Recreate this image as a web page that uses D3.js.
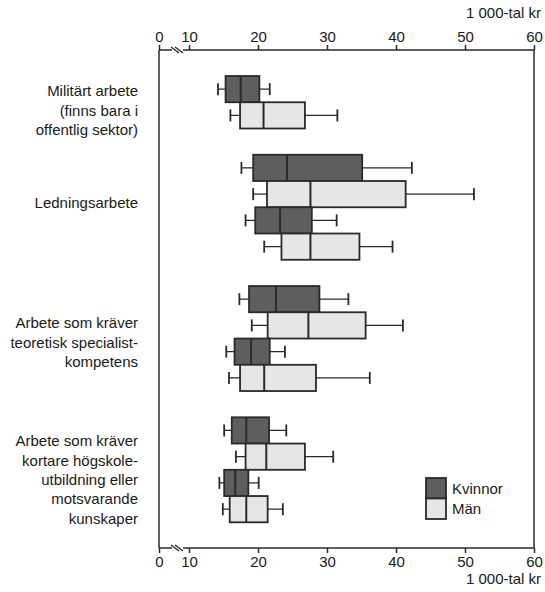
<!DOCTYPE html>
<html>
<head>
<meta charset="utf-8">
<script src="https://cdn.jsdelivr.net/npm/d3@7"></script>
<style>
  body { margin: 0; background: #fff; }
  text { font-family: "Liberation Sans", Arial, sans-serif; fill: #1a1a1a; }
</style>
</head>
<body>
<script>
// data (1 000-tal kr)
var groupLabels = [
  ["Militärt arbete", "(finns bara i", "offentlig sektor)"],
  ["Ledningsarbete"],
  ["Arbete som kräver", "teoretisk specialist-", "kompetens"],
  ["Arbete som kräver", "kortare högskole-", "utbildning eller", "motsvarande", "kunskaper"]
];
var boxGroup = [0, 0, 1, 1, 1, 1, 2, 2, 2, 2, 3, 3, 3, 3];
var boxSex = ["Kvinnor", "Män", "Kvinnor", "Män", "Kvinnor", "Män", "Kvinnor", "Män",
              "Kvinnor", "Män", "Kvinnor", "Män", "Kvinnor", "Män"];
var whiskerLow  = [14.2, 16.0, 17.6, 19.3, 18.2, 20.9, 17.3, 19.1, 15.4, 15.8, 15.1, 16.8, 14.4, 14.9];
var quart1      = [15.3, 17.4, 19.3, 21.3, 19.6, 23.4, 18.7, 21.4, 16.6, 17.4, 16.2, 18.2, 15.1, 15.9];
var medians     = [17.5, 20.8, 24.2, 27.6, 23.2, 27.6, 22.6, 27.3, 19.0, 20.9, 18.3, 21.2, 16.7, 18.3];
var quart3      = [20.2, 26.8, 35.1, 41.4, 27.8, 34.7, 28.9, 35.6, 21.7, 28.4, 21.6, 26.8, 18.6, 21.4];
var whiskerHigh = [21.7, 31.5, 42.3, 51.3, 31.4, 39.5, 33.1, 41.0, 23.9, 36.2, 24.1, 30.9, 20.1, 23.6];
var tickValues = [0, 10, 20, 30, 40, 50, 60];
var unitLabel = "1 000-tal kr";
var legendKeys = ["Kvinnor", "Män"];

// layout
var width = 545, height = 592;
var plotLeft = 159, plotRight = 534, plotTop = 50, plotBottom = 548;
var stroke = "#2a2a2a";
var fontSize = "15px";
var fillOf = { "Kvinnor": "#5e5e5e", "Män": "#e6e6e6" };
var labelDy = [8, -5, 4, 10];

var svg = d3.select("body").append("svg")
    .attr("width", width)
    .attr("height", height);

// broken axis: 0 then jump to 10
var x = d3.scaleLinear().domain([0, 10, 60]).range([plotLeft, 189, plotRight]);

var nRows = boxGroup.length + groupLabels.length - 1;
var y = d3.scaleBand().domain(d3.range(nRows)).range([76, 522.3]).padding(0);
function rowOf(i) { return i + boxGroup[i]; }

// frame sides
svg.append("g").selectAll("line")
  .data([plotLeft, plotRight])
  .enter().append("line")
    .attr("x1", function(d) { return d; })
    .attr("x2", function(d) { return d; })
    .attr("y1", plotTop)
    .attr("y2", plotBottom)
    .attr("stroke", stroke)
    .attr("stroke-width", 1.5);

function drawAxis(axisGen, yPos, dir) {
  var g = svg.append("g")
      .attr("transform", "translate(0," + yPos + ")")
      .call(axisGen.tickValues(tickValues).tickSize(5).tickSizeOuter(0).tickPadding(3));
  g.select(".domain").remove();
  g.selectAll(".tick line").attr("stroke", stroke).attr("stroke-width", 1.5);
  g.selectAll(".tick text")
    .style("font-family", "'Liberation Sans', Arial, sans-serif")
    .style("font-size", fontSize)
    .attr("fill", "#1a1a1a");
  // axis line with break between 0 and 10
  var b1 = 172, b2 = 183;
  g.append("line").attr("x1", x(0)).attr("x2", b1).attr("y1", 0).attr("y2", 0)
    .attr("stroke", stroke).attr("stroke-width", 1.5);
  g.append("line").attr("x1", b2).attr("x2", x(60)).attr("y1", 0).attr("y2", 0)
    .attr("stroke", stroke).attr("stroke-width", 1.5);
  [b1 + 1, b1 + 5].forEach(function(bx) {
    g.append("line")
      .attr("x1", bx - 2).attr("y1", -3)
      .attr("x2", bx + 6).attr("y2", 3)
      .attr("stroke", stroke).attr("stroke-width", 1.3);
  });
  g.append("text")
    .attr("x", 541)
    .attr("y", dir < 0 ? -32 : 36)
    .attr("text-anchor", "end")
    .style("font-size", fontSize)
    .text(unitLabel);
}
drawAxis(d3.axisTop(x), plotTop, -1);
drawAxis(d3.axisBottom(x), plotBottom, 1);

// boxes
var idx = d3.range(boxGroup.length);
var boxes = svg.append("g").selectAll("g.box")
  .data(idx)
  .enter().append("g")
    .attr("class", "box");

var capH = 12;
boxes.append("line")
    .attr("x1", function(i) { return x(whiskerLow[i]); })
    .attr("x2", function(i) { return x(whiskerHigh[i]); })
    .attr("y1", function(i) { return y(rowOf(i)) + y.bandwidth() / 2; })
    .attr("y2", function(i) { return y(rowOf(i)) + y.bandwidth() / 2; })
    .attr("stroke", stroke).attr("stroke-width", 1.4);
[whiskerLow, whiskerHigh].forEach(function(arr) {
  boxes.append("line")
      .attr("x1", function(i) { return x(arr[i]); })
      .attr("x2", function(i) { return x(arr[i]); })
      .attr("y1", function(i) { return y(rowOf(i)) + y.bandwidth() / 2 - capH / 2; })
      .attr("y2", function(i) { return y(rowOf(i)) + y.bandwidth() / 2 + capH / 2; })
      .attr("stroke", stroke).attr("stroke-width", 1.8);
});
boxes.append("rect")
    .attr("x", function(i) { return x(quart1[i]); })
    .attr("width", function(i) { return x(quart3[i]) - x(quart1[i]); })
    .attr("y", function(i) { return y(rowOf(i)); })
    .attr("height", y.bandwidth())
    .attr("fill", function(i) { return fillOf[boxSex[i]]; })
    .attr("stroke", stroke).attr("stroke-width", 1.8);
boxes.append("line")
    .attr("x1", function(i) { return x(medians[i]); })
    .attr("x2", function(i) { return x(medians[i]); })
    .attr("y1", function(i) { return y(rowOf(i)); })
    .attr("y2", function(i) { return y(rowOf(i)) + y.bandwidth(); })
    .attr("stroke", stroke).attr("stroke-width", 2);

// group labels
var lineH = 19.3;
groupLabels.forEach(function(lines, gi) {
  var rows = idx.filter(function(i) { return boxGroup[i] === gi; }).map(rowOf);
  var cy = (y(d3.min(rows)) + y(d3.max(rows)) + y.bandwidth()) / 2 + labelDy[gi];
  var t = svg.append("text")
      .attr("text-anchor", "end")
      .style("font-size", fontSize);
  lines.forEach(function(l, k) {
    t.append("tspan")
      .attr("x", 138)
      .attr("y", cy + (k - (lines.length - 1) / 2) * lineH)
      .attr("dy", "0.35em")
      .text(l);
  });
});

// legend
var leg = svg.append("g").attr("transform", "translate(426,478)");
legendKeys.forEach(function(k, i) {
  leg.append("rect")
    .attr("x", 0).attr("y", i * 20.5)
    .attr("width", 20).attr("height", 20.5)
    .attr("fill", fillOf[k])
    .attr("stroke", stroke).attr("stroke-width", 1.8);
  leg.append("text")
    .attr("x", 26).attr("y", i * 20.5 + 10.5)
    .attr("dy", "0.35em")
    .style("font-size", fontSize)
    .text(k);
});
</script>
</body>
</html>
